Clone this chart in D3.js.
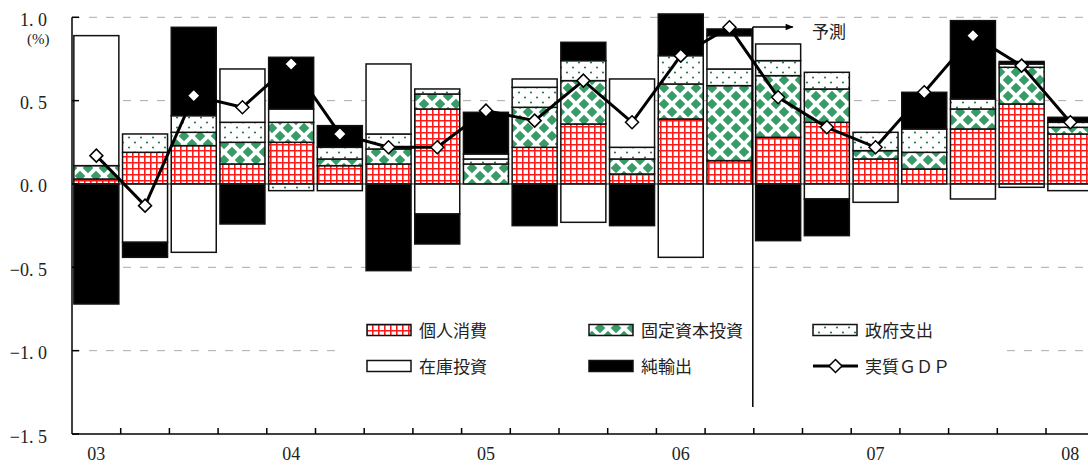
<!DOCTYPE html>
<html><head><meta charset="utf-8">
<script src="https://cdn.jsdelivr.net/npm/d3@7"></script>
<style>
html,body{margin:0;padding:0;background:#fff;}
svg{display:block;}
</style></head>
<body>
<svg id="chart" width="1088" height="470"></svg>
<script>
// ---- data ----
const quarters = ["03Q1","03Q2","03Q3","03Q4","04Q1","04Q2","04Q3","04Q4","05Q1","05Q2","05Q3","05Q4","06Q1","06Q2","06Q3","06Q4","07Q1","07Q2","07Q3","07Q4","08Q1"];
const yearLabels = ["03","04","05","06","07","08"];
const personal   = [0.03,0.19,0.23,0.12,0.25,0.11,0.12,0.45,0.00,0.22,0.36,0.06,0.39,0.14,0.28,0.37,0.15,0.09,0.33,0.48,0.30];
const fixedInv   = [0.08,0.00,0.08,0.13,0.12,0.04,0.09,0.09,0.12,0.24,0.26,0.09,0.21,0.45,0.37,0.20,0.05,0.10,0.12,0.22,0.04];
const government = [0.00,0.11,0.10,0.12,-0.04,0.07,0.09,0.03,0.03,0.12,0.12,0.07,0.17,0.10,0.09,0.10,0.11,0.14,0.06,0.02,0.03];
const inventory  = [0.78,-0.35,-0.41,0.32,0.08,-0.04,0.42,-0.18,0.03,0.05,-0.23,0.41,-0.44,0.20,0.10,-0.09,-0.11,0.00,-0.09,-0.02,-0.04];
const netExports = [-0.72,-0.09,0.53,-0.24,0.31,0.13,-0.52,-0.18,0.25,-0.25,0.11,-0.25,0.25,0.04,-0.34,-0.22,0.00,0.22,0.47,0.015,0.03];
const realGDP    = [0.17,-0.13,0.53,0.46,0.72,0.30,0.22,0.22,0.44,0.38,0.62,0.37,0.77,0.94,0.52,0.34,0.22,0.55,0.89,0.71,0.37];
const seriesNames = ["個人消費","固定資本投資","政府支出","在庫投資","純輸出"];
const gdpName = "実質ＧＤＰ";
const yTicks = [1.0,0.5,0.0,-0.5,-1.0,-1.5];
const yTickLabels = ["1. 0","0. 5","0. 0","−0. 5","−1. 0","−1. 5"];
const forecastLabel = "予測";
const forecastStart = "06Q3";
const unitLabel = "(%)";

// ---- layout ----
const svg = d3.select("#chart");
const X0 = 72, STEP = 48.7, N = quarters.length;
const xIdx = d3.scaleLinear().domain([0, N]).range([X0, X0 + N*STEP]);
const xBand = d3.scaleBand().domain(quarters).range([X0, X0 + N*STEP]).paddingInner(0.076).paddingOuter(0.038);
const y = d3.scaleLinear().domain([-1.5, 1.0]).range([434, 17.3]);

const defs = svg.append("defs");
// personal consumption: red grid
const p1 = defs.append("pattern").attr("id","pat0").attr("patternUnits","userSpaceOnUse").attr("width",6).attr("height",6);
p1.append("rect").attr("width",6).attr("height",6).attr("fill","#fff");
p1.append("path").attr("d","M0 0.8H6M0.8 0V6").attr("stroke","#ff1a1a").attr("stroke-width",1.6);
// fixed investment: green diamonds
const p2 = defs.append("pattern").attr("id","pat1").attr("patternUnits","userSpaceOnUse").attr("width",16).attr("height",16);
p2.append("rect").attr("width",16).attr("height",16).attr("fill","#fff");
const dm = (cx, cy, r) => `M${cx} ${cy-r}L${cx+r} ${cy}L${cx} ${cy+r}L${cx-r} ${cy}Z`;
p2.append("path").attr("d", [dm(8,8,5.3), dm(0,0,5.3), dm(16,0,5.3), dm(0,16,5.3), dm(16,16,5.3)].join(" ")).attr("fill","#389c68");
// government: dots
const p3 = defs.append("pattern").attr("id","pat2").attr("patternUnits","userSpaceOnUse").attr("width",12).attr("height",10);
p3.append("rect").attr("width",12).attr("height",10).attr("fill","#fff");
p3.append("circle").attr("cx",3).attr("cy",2.5).attr("r",1.1).attr("fill","#2f7a4c");
p3.append("circle").attr("cx",9).attr("cy",7.5).attr("r",1.1).attr("fill","#2f7a4c");
const fills = ["url(#pat0)","url(#pat1)","url(#pat2)","#ffffff","#000000"];

// gridlines
svg.append("g").selectAll("line").data(yTicks.filter(v => v !== 0 && v !== -1.5)).join("line")
  .attr("x1", X0).attr("x2", 1088).attr("y1", d => y(d)).attr("y2", d => y(d))
  .attr("stroke","#aaa").attr("stroke-width",1).attr("stroke-dasharray","8,9");

// stacked bars
const table = quarters.map((q,i) => ({q, s0: personal[i], s1: fixedInv[i], s2: government[i], s3: inventory[i], s4: netExports[i]}));
const keys = ["s0","s1","s2","s3","s4"];
const stacked = d3.stack().keys(keys).offset(d3.stackOffsetDiverging)(table);
const gBars = svg.append("g");
stacked.forEach((layer, k) => {
  gBars.append("g").selectAll("rect").data(layer.filter(d => Math.abs(d[1]-d[0]) > 1e-9)).join("rect")
    .attr("x", d => xBand(d.data.q))
    .attr("width", xBand.bandwidth())
    .attr("y", d => y(Math.max(d[0], d[1])))
    .attr("height", d => Math.abs(y(d[0]) - y(d[1])))
    .attr("fill", fills[k]).attr("stroke","#111").attr("stroke-width",1.5);
});

// zero line
svg.append("line").attr("x1",X0).attr("x2",1088).attr("y1",y(0)).attr("y2",y(0)).attr("stroke","#222").attr("stroke-width",1);

// legend background
svg.append("rect").attr("x",340).attr("y",312).attr("width",665).attr("height",78).attr("fill","#fff");

// GDP line
const cx = (q) => xBand(q) + xBand.bandwidth()/2;
svg.append("path").datum(realGDP)
  .attr("d", d3.line().x((d,i) => cx(quarters[i])).y(d => y(d)))
  .attr("fill","none").attr("stroke","#000").attr("stroke-width",3);
const diamond = (r) => `M0 ${-r}L${r} 0L0 ${r}L${-r} 0Z`;
svg.append("g").selectAll("path").data(realGDP).join("path")
  .attr("transform", (d,i) => `translate(${cx(quarters[i])},${y(d)})`)
  .attr("d", diamond(6.5)).attr("fill","#fff").attr("stroke","#000").attr("stroke-width",1.5);

// axes
svg.append("line").attr("x1",X0).attr("x2",X0).attr("y1",y(1.0)).attr("y2",y(-1.5)).attr("stroke","#000").attr("stroke-width",1.5);
svg.append("g").selectAll("line").data(yTicks).join("line")
  .attr("x1",X0).attr("x2",X0+7).attr("y1",d=>y(d)).attr("y2",d=>y(d)).attr("stroke","#000").attr("stroke-width",1.5);
svg.append("g").selectAll("text").data(yTicks).join("text")
  .attr("x",47).attr("y",d=>y(d)+8.5).attr("text-anchor","end")
  .attr("font-family","'Liberation Serif','DejaVu Serif',serif").attr("font-size",18).attr("fill","#222")
  .text((d,i)=>yTickLabels[i]);
svg.append("text").attr("x",27).attr("y",44).attr("font-family","'Liberation Serif','DejaVu Serif',serif").attr("font-size",15).attr("fill","#222").text(unitLabel);

svg.append("line").attr("x1",X0).attr("x2",1088).attr("y1",y(-1.5)).attr("y2",y(-1.5)).attr("stroke","#000").attr("stroke-width",1.5);
svg.append("g").selectAll("line").data(d3.range(1, N+1)).join("line")
  .attr("x1",d=>xIdx(d)).attr("x2",d=>xIdx(d)).attr("y1",y(-1.5)).attr("y2",y(-1.5)-6).attr("stroke","#000").attr("stroke-width",1.5);
svg.append("g").selectAll("text").data(yearLabels).join("text")
  .attr("x",(d,i)=>xIdx(i*4+0.5)).attr("y",460).attr("text-anchor","middle")
  .attr("font-family","'Liberation Serif','DejaVu Serif',serif").attr("font-size",18).attr("fill","#222")
  .text(d=>d);

// forecast marker
const fIdx = quarters.indexOf(forecastStart);
const fx = xIdx(fIdx) - 1;
defs.append("marker").attr("id","arrow").attr("viewBox","0 0 10 10").attr("refX",9).attr("refY",5)
  .attr("markerWidth",10).attr("markerHeight",8).attr("markerUnits","userSpaceOnUse").attr("orient","auto")
  .append("path").attr("d","M0 1L10 5L0 9Z").attr("fill","#000");
svg.append("line").attr("x1",fx).attr("x2",fx).attr("y1",27).attr("y2",407).attr("stroke","#000").attr("stroke-width",1.5);
svg.append("line").attr("x1",fx).attr("x2",fx+40).attr("y1",27).attr("y2",27).attr("stroke","#000").attr("stroke-width",1.5).attr("marker-end","url(#arrow)");
svg.append("text").attr("x",812).attr("y",38).attr("font-family","'Noto Sans CJK JP',sans-serif").attr("font-size",17).attr("fill","#222").text(forecastLabel);

// legend
const legPos = [[367,330],[589,330],[813,330],[367,366],[589,366]];
const lg = svg.append("g").attr("font-family","'Noto Sans CJK JP',sans-serif").attr("font-size",17).attr("fill","#222");
seriesNames.forEach((name,k) => {
  const [lx,ly] = legPos[k];
  lg.append("rect").attr("x",lx).attr("y",ly-5.5).attr("width",44).attr("height",11).attr("fill",fills[k]).attr("stroke","#111").attr("stroke-width",1.5);
  lg.append("text").attr("x",lx+52).attr("y",ly+6.5).text(name);
});
lg.append("line").attr("x1",813).attr("x2",858).attr("y1",366).attr("y2",366).attr("stroke","#000").attr("stroke-width",3);
lg.append("path").attr("transform","translate(835.5,366)").attr("d",diamond(6.5)).attr("fill","#fff").attr("stroke","#000").attr("stroke-width",1.5);
lg.append("text").attr("x",865).attr("y",372.5).text(gdpName);
</script>
</body></html>
